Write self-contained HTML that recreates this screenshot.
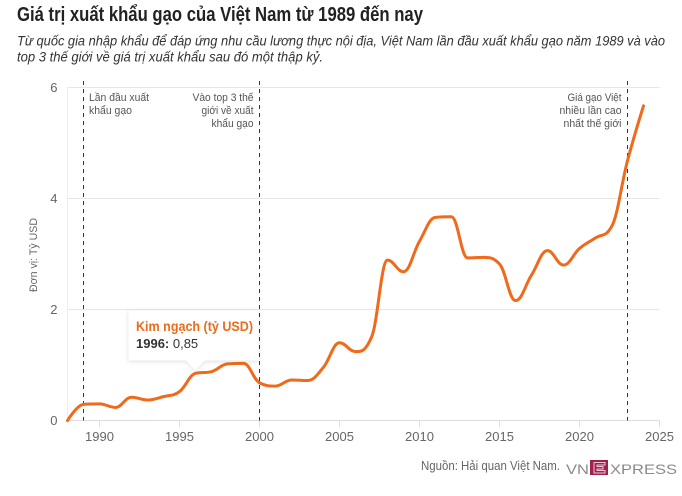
<!DOCTYPE html>
<html><head><meta charset="utf-8">
<style>
html,body{margin:0;padding:0;background:#fff;}
body{width:682px;height:496px;overflow:hidden;font-family:"Liberation Sans","DejaVu Sans",sans-serif;}
svg{display:block;}
</style></head>
<body>
<svg id="c" width="682" height="496" viewBox="0 0 682 496" xmlns="http://www.w3.org/2000/svg" font-family="Liberation Sans, DejaVu Sans, sans-serif">
  <defs>
    <filter id="sh" x="-20%" y="-30%" width="140%" height="170%">
      <feDropShadow dx="0" dy="1" stdDeviation="2.5" flood-color="#000" flood-opacity="0.13"/>
    </filter>
  </defs>
  <!-- Title -->
  <text x="17" y="21" font-size="20" font-weight="bold" fill="#222" textLength="406" lengthAdjust="spacingAndGlyphs">Giá trị xuất khẩu gạo của Việt Nam từ 1989 đến nay</text>
  <text x="17" y="45.5" font-size="13.5" font-style="italic" fill="#333" textLength="648" lengthAdjust="spacingAndGlyphs">Từ quốc gia nhập khẩu để đáp ứng nhu cầu lương thực nội địa, Việt Nam lần đầu xuất khẩu gạo năm 1989 và vào</text>
  <text x="17" y="61.5" font-size="13.5" font-style="italic" fill="#333" textLength="306" lengthAdjust="spacingAndGlyphs">top 3 thế giới về giá trị xuất khẩu sau đó một thập kỷ.</text>

  <!-- grid -->
  <g stroke="#e6e6e6" stroke-width="1">
    <line x1="67.5" x2="659.5" y1="87.5" y2="87.5"/>
    <line x1="67.5" x2="659.5" y1="198.5" y2="198.5"/>
    <line x1="67.5" x2="659.5" y1="309.5" y2="309.5"/>
  </g>
  <line x1="67.5" x2="67.5" y1="87" y2="420.5" stroke="#eeeeee" stroke-width="1"/>
  <line x1="67.5" x2="659.5" y1="420.5" y2="420.5" stroke="#dcdcdc" stroke-width="1"/>
  <g stroke="#dcdcdc" stroke-width="1">
    <line x1="99.5" x2="99.5" y1="420.5" y2="427"/>
    <line x1="179.5" x2="179.5" y1="420.5" y2="427"/>
    <line x1="259.5" x2="259.5" y1="420.5" y2="427"/>
    <line x1="339.5" x2="339.5" y1="420.5" y2="427"/>
    <line x1="419.5" x2="419.5" y1="420.5" y2="427"/>
    <line x1="499.5" x2="499.5" y1="420.5" y2="427"/>
    <line x1="579.5" x2="579.5" y1="420.5" y2="427"/>
    <line x1="659.5" x2="659.5" y1="420.5" y2="427"/>
  </g>

  <!-- y labels -->
  <g font-size="13" fill="#666" text-anchor="end">
    <text x="57.5" y="92">6</text>
    <text x="57.5" y="203">4</text>
    <text x="57.5" y="314">2</text>
    <text x="57.5" y="425">0</text>
  </g>
  <text transform="translate(37,255) rotate(-90)" font-size="11" fill="#666" text-anchor="middle" textLength="74" lengthAdjust="spacingAndGlyphs">Đơn vị: Tỷ USD</text>

  <!-- x labels -->
  <g font-size="13" fill="#666" text-anchor="middle">
    <text x="99.5" y="441">1990</text>
    <text x="179.5" y="441">1995</text>
    <text x="259.5" y="441">2000</text>
    <text x="339.5" y="441">2005</text>
    <text x="419.5" y="441">2010</text>
    <text x="499.5" y="441">2015</text>
    <text x="579.5" y="441">2020</text>
    <text x="659.5" y="441">2025</text>
  </g>

  <!-- plot lines -->
  <g stroke="#333" stroke-width="1" stroke-dasharray="4,4">
    <line x1="83.5" x2="83.5" y1="81" y2="420.5"/>
    <line x1="259.5" x2="259.5" y1="81" y2="420.5"/>
    <line x1="627.5" x2="627.5" y1="81" y2="420.5"/>
  </g>
  <g font-size="11.2" fill="#555">
    <text x="89" y="101" textLength="60" lengthAdjust="spacingAndGlyphs">Lần đầu xuất</text>
    <text x="89" y="114" textLength="43" lengthAdjust="spacingAndGlyphs">khẩu gạo</text>
  </g>
  <g font-size="11.2" fill="#555" text-anchor="end">
    <text x="253.5" y="101" textLength="61" lengthAdjust="spacingAndGlyphs">Vào top 3 thế</text>
    <text x="253.5" y="114" textLength="52" lengthAdjust="spacingAndGlyphs">giới về xuất</text>
    <text x="253.5" y="127" textLength="42" lengthAdjust="spacingAndGlyphs">khẩu gạo</text>
    <text x="621.5" y="101" textLength="54" lengthAdjust="spacingAndGlyphs">Giá gạo Việt</text>
    <text x="621.5" y="114" textLength="62" lengthAdjust="spacingAndGlyphs">nhiều lần cao</text>
    <text x="621.5" y="127" textLength="58" lengthAdjust="spacingAndGlyphs">nhất thế giới</text>
  </g>

  <!-- series -->
  <path id="series" d="" fill="none" stroke="#ef6a1a" stroke-width="3" stroke-linejoin="round" stroke-linecap="round"/>

  <!-- tooltip -->
  <g filter="url(#sh)">
    <path d="M128.5 310.5 H258.5 V360.5 H205 L195 370 L186 360.5 H128.5 Z" fill="#fff"/>
  </g>
  <text x="136" y="331" font-size="13.5" font-weight="bold" fill="#ef6a1a" textLength="117" lengthAdjust="spacingAndGlyphs">Kim ngạch (tỷ USD)</text>
  <text x="136" y="348" font-size="13" fill="#333"><tspan font-weight="bold">1996:</tspan> 0,85</text>

  <!-- source -->
  <text x="421" y="470" font-size="12.5" fill="#666" textLength="139" lengthAdjust="spacingAndGlyphs">Nguồn: Hải quan Việt Nam.</text>
  <text x="566" y="474" font-size="14" fill="#8a8a8a" textLength="23" lengthAdjust="spacingAndGlyphs">VN</text>
  <rect x="590" y="460" width="18" height="15" fill="#9f224e"/>
  <path d="M594 462.5 H605 V465 H597 V466.5 H603 V469 H597 V470.5 H605 V473 H594 Z" fill="none" stroke="#f3c6d6" stroke-width="1"/>
  <text x="610" y="474" font-size="14" fill="#8a8a8a" textLength="67" lengthAdjust="spacingAndGlyphs">XPRESS</text>
</svg>
<script>
(function(){
  var data=[0,0.29,0.30,0.235,0.42,0.37,0.43,0.52,0.85,0.88,1.02,1.03,0.68,0.62,0.73,0.72,0.96,1.40,1.24,1.50,2.89,2.68,3.23,3.66,3.67,2.93,2.94,2.82,2.16,2.62,3.06,2.80,3.10,3.29,3.49,4.68,5.67];
  var pts=data.map(function(v,i){return {x:99.5+(1988+i-1990)*16,y:420.5-v*55.5};});
  var sm=1.5,den=sm+1;
  var d='M'+pts[0].x.toFixed(2)+' '+pts[0].y.toFixed(2);
  for(var i=1;i<pts.length;i++){
    var p=pts[i],l=pts[i-1],n=pts[i+1];
    var lcx,lcy,rcx,rcy;
    if(n){
      lcx=(sm*p.x+l.x)/den;lcy=(sm*p.y+l.y)/den;
      rcx=(sm*p.x+n.x)/den;rcy=(sm*p.y+n.y)/den;
      if(rcx!==lcx){
        var corr=((rcy-lcy)*(rcx-p.x))/(rcx-lcx)+p.y-rcy;
        lcy+=corr;rcy+=corr;
        if(lcy>l.y&&lcy>p.y){lcy=Math.max(l.y,p.y);rcy=2*p.y-lcy;}
        else if(lcy<l.y&&lcy<p.y){lcy=Math.min(l.y,p.y);rcy=2*p.y-lcy;}
        if(rcy>n.y&&rcy>p.y){rcy=Math.max(n.y,p.y);lcy=2*p.y-rcy;}
        else if(rcy<n.y&&rcy<p.y){rcy=Math.min(n.y,p.y);lcy=2*p.y-rcy;}
      }
    } else {lcx=p.x;lcy=p.y;}
    var a=(l.rcx!==undefined)?l.rcx:l.x, b=(l.rcy!==undefined)?l.rcy:l.y;
    d+=' C'+a.toFixed(2)+' '+b.toFixed(2)+' '+lcx.toFixed(2)+' '+lcy.toFixed(2)+' '+p.x.toFixed(2)+' '+p.y.toFixed(2);
    p.rcx=rcx;p.rcy=rcy;
  }
  document.getElementById('series').setAttribute('d',d);
})();
</script>
</body></html>
